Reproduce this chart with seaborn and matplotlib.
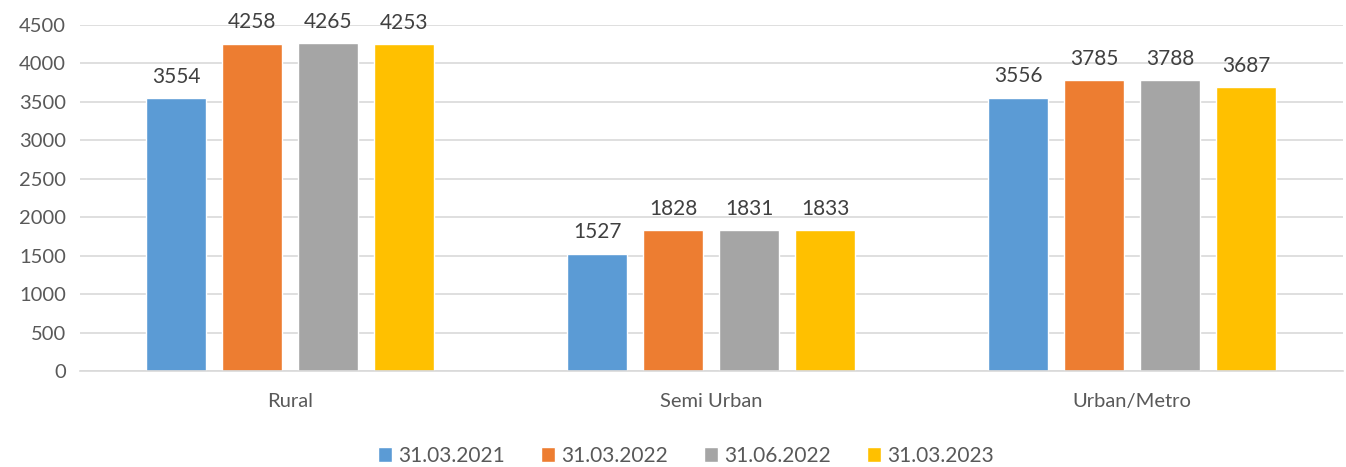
import matplotlib
matplotlib.use("Agg")
import matplotlib.pyplot as plt
import seaborn as sns
import pandas as pd

categories = ["Rural", "Semi Urban", "Urban/Metro"]
series = ["31.03.2021", "31.03.2022", "31.06.2022", "31.03.2023"]
v_2021_03 = [3554, 1527, 3556]
v_2022_03 = [4258, 1828, 3785]
v_2022_06 = [4265, 1831, 3788]
v_2023_03 = [4253, 1833, 3687]
colors = ["#5B9BD5", "#ED7D31", "#A5A5A5", "#FFC000"]

rows = []
for s, vals in zip(series, [v_2021_03, v_2022_03, v_2022_06, v_2023_03]):
    for c, v in zip(categories, vals):
        rows.append({"cat": c, "series": s, "value": v})
df = pd.DataFrame(rows)

sns.set_theme(style="white")
plt.rcParams["font.family"] = ["Lato", "DejaVu Sans"]

fig = plt.figure(figsize=(13.46, 4.67), dpi=100)
ax = fig.add_axes([0.0594, 0.2056, 0.938, 0.741])
sns.barplot(data=df, x="cat", y="value", hue="series", order=categories,
            hue_order=series, palette=colors, width=0.722, gap=0.21,
            saturation=1, ax=ax, legend=True, errorbar=None)

for cont in ax.containers:
    ax.bar_label(cont, labels=[f"{int(v)}" for v in cont.datavalues],
                 padding=8, fontsize=15, color="#404040")

ax.set_ylim(0, 4500)
ax.set_yticks(range(0, 4501, 500))
ax.set_xlim(-0.5, 2.5)
ax.yaxis.grid(True, color="#D9D9D9", linewidth=1.2)
ax.set_axisbelow(True)
for sp in ["top", "right", "left"]:
    ax.spines[sp].set_visible(False)
ax.spines["bottom"].set_color("#D9D9D9")
ax.spines["bottom"].set_linewidth(1.2)
ax.tick_params(axis="both", length=0, labelsize=14.5, colors="#595959", pad=10)
ax.tick_params(axis="x", pad=16)
ax.set_xlabel("")
ax.set_ylabel("")

handles, labels = ax.get_legend_handles_labels()
ax.legend(handles, labels, loc="center", bbox_to_anchor=(0.48, -0.245),
          bbox_transform=ax.transAxes,
          ncol=4, frameon=False, fontsize=15, handlelength=0.7, handleheight=0.7,
          handletextpad=0.3, columnspacing=1.7, labelcolor="#595959")

fig.savefig("out.png", dpi=100)
